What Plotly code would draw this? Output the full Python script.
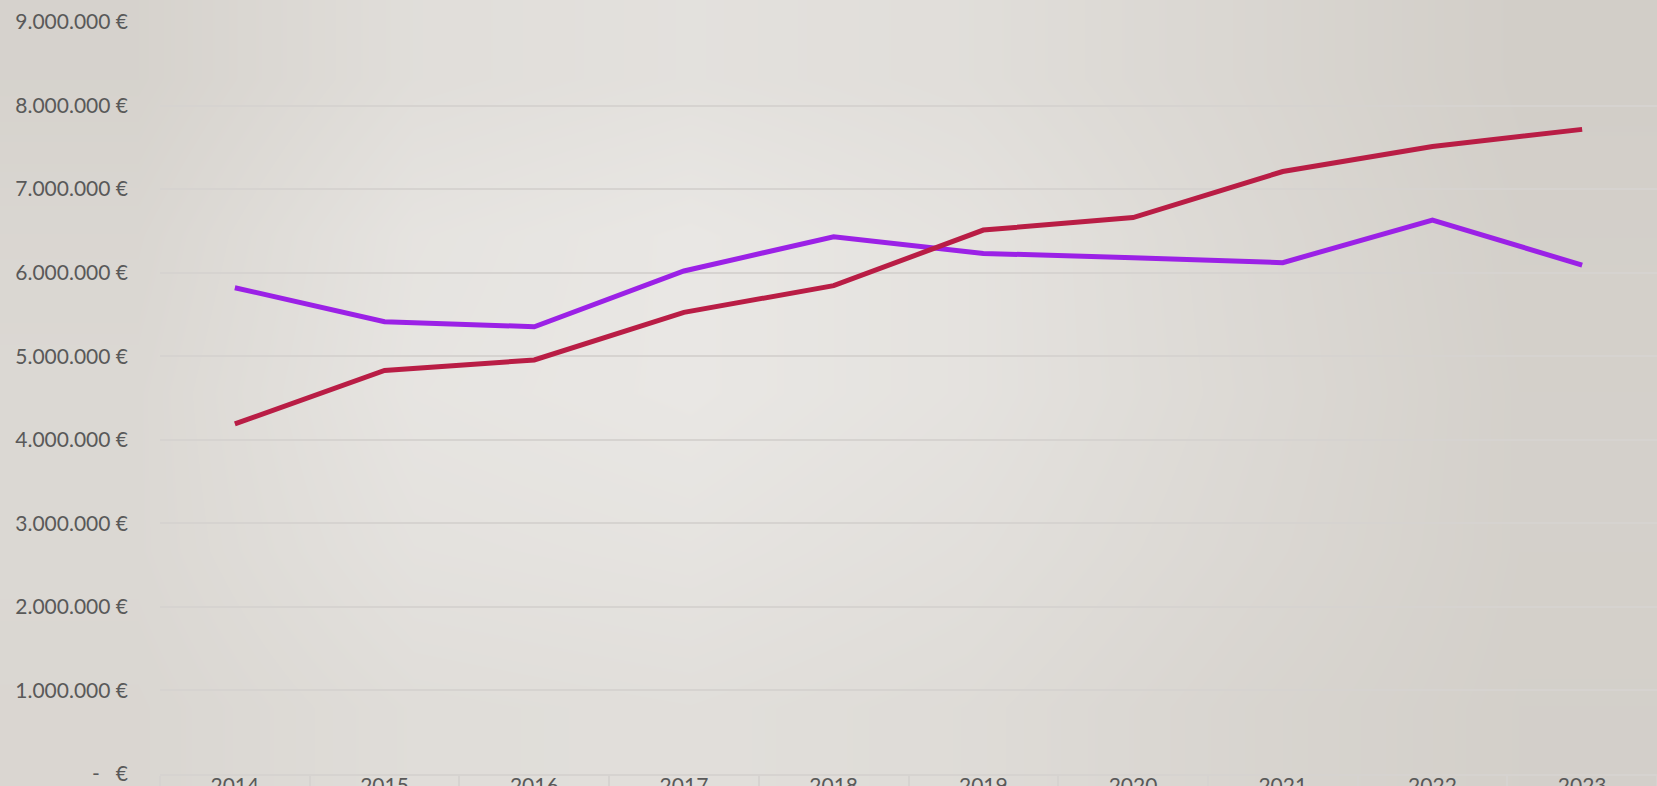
import plotly.graph_objects as go

years = ["2014", "2015", "2016", "2017", "2018", "2019", "2020", "2021", "2022", "2023"]
purple_vals = [5820000, 5413000, 5353000, 6020000, 6430000, 6230000, 6180000, 6120000, 6630000, 6090000]
red_vals = [4190000, 4830000, 4955000, 5525000, 5845000, 6510000, 6660000, 7210000, 7510000, 7715000]
y_tickvals = [0, 1000000, 2000000, 3000000, 4000000, 5000000, 6000000, 7000000, 8000000, 9000000]
y_ticktext = ["-   €", "1.000.000 €", "2.000.000 €", "3.000.000 €", "4.000.000 €", "5.000.000 €",
              "6.000.000 €", "7.000.000 €", "8.000.000 €", "9.000.000 €"]

# background shading grid (bottom row first), smoothed by the heatmap
bg_z = [
    [0.50, 0.68, 0.72, 0.64, 0.46, 0.32],
    [0.55, 0.80, 0.85, 0.74, 0.54, 0.34],
    [0.55, 0.88, 0.95, 0.82, 0.58, 0.34],
    [0.50, 0.85, 0.95, 0.82, 0.56, 0.32],
    [0.40, 0.70, 0.78, 0.70, 0.50, 0.28],
]

fig = go.Figure()
fig.add_trace(go.Heatmap(z=bg_z, xaxis="x", yaxis="y", zsmooth="best", showscale=False,
                         colorscale=[[0, "#D2CEC8"], [1, "#E9E7E4"]], hoverinfo="skip"))
fig.add_trace(go.Scatter(x=years, y=purple_vals, mode="lines", xaxis="x2", yaxis="y2",
                         line=dict(color="#9B21E6", width=5), showlegend=False))
fig.add_trace(go.Scatter(x=years, y=red_vals, mode="lines", xaxis="x2", yaxis="y2",
                         line=dict(color="#B91D45", width=5), showlegend=False))

W, H = 1657, 786
fig.update_layout(
    width=W, height=H,
    paper_bgcolor="#DFDCD8",
    plot_bgcolor="rgba(0,0,0,0)",
    margin=dict(l=0, r=0, t=0, b=0, autoexpand=False),
    font=dict(family="Lato, sans-serif", color="#595959", size=21),
    xaxis=dict(domain=[0, 1], visible=False, range=[-0.5, 5.5], fixedrange=True, automargin=False),
    yaxis=dict(domain=[0, 1], visible=False, range=[-0.5, 4.5], fixedrange=True, automargin=False),
    xaxis2=dict(domain=[160 / W, 1], anchor="y2", range=[-0.5, 9.5], automargin=False,
                showgrid=False, showline=True, linecolor="#D6D3D0", linewidth=2,
                ticks="outside", tickson="boundaries", ticklen=22, tickcolor="#D6D3D0",
                tickwidth=1.5, zeroline=False, ticklabelstandoff=-8,
                tickfont=dict(size=21, color="#595959")),
    yaxis2=dict(domain=[12 / H, 1 - 22 / H], anchor="x2", range=[0, 9000000], automargin=False,
                tickvals=y_tickvals, ticktext=y_ticktext,
                showgrid=True, gridcolor="#D6D3D0", gridwidth=1.5, zeroline=False,
                ticks="", ticklabelstandoff=31, tickfont=dict(size=21, color="#595959")),
)

fig.write_html("out.html", config={"displayModeBar": False},
               post_script="document.body.style.margin='0';")
